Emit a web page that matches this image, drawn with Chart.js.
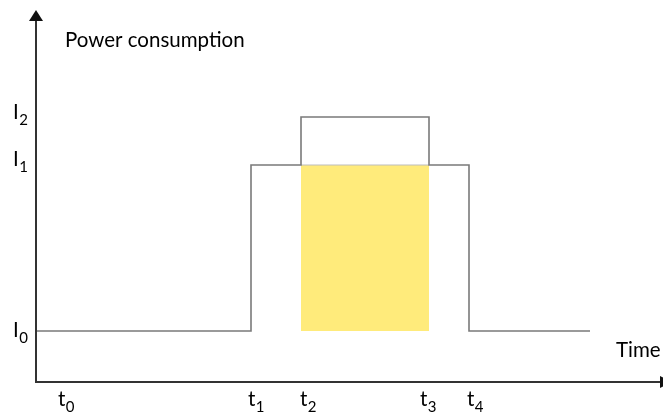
<!DOCTYPE html>
<html>
<head>
<meta charset="utf-8">
<script src="https://cdn.jsdelivr.net/npm/chart.js@4/dist/chart.umd.min.js"></script>
<style>
  html, body { margin: 0; padding: 0; background: #ffffff; }
  #c { display: block; }
</style>
</head>
<body>
<canvas id="c" width="663" height="412"></canvas>
<script>
// ---- data (arbitrary units) ----
const levelNames = ['I0', 'I1', 'I2'];
const levels = [5.1, 21.7, 26.5];                 // I0, I1, I2
const stepTimes = [0, 21.5, 26.5, 39.3, 43.3, 55.4];
const stepLevels = [5.1, 21.7, 26.5, 21.7, 5.1, 5.1];
const shadeTimes = [26.5, 39.3];                  // t2 .. t3
const shadeTop = [21.7, 21.7];                    // I1
const shadeBase = 5.1;                            // I0
const timeTickMain = ['t', 't', 't', 't', 't'];
const timeTickSub = ['0', '1', '2', '3', '4'];
const timeTickPos = [2.2, 21.2, 26.4, 38.4, 43.1];
const levelTickMain = ['I', 'I', 'I'];
const levelTickSub = ['0', '1', '2'];
const levelTickPos = [4.5, 21.6, 26.3];
const yTitle = 'Power consumption';
const xTitle = 'Time';
const xMax = 62.4, yMax = 37.2;

const FONT = 'Lato, "Open Sans", sans-serif';

const axesPlugin = {
  id: 'axesPlugin',
  afterDatasetsDraw(chart) {
    const ctx = chart.ctx;
    const xs = chart.scales.x, ys = chart.scales.y;
    const x0 = xs.getPixelForValue(0), y0 = ys.getPixelForValue(0);
    const xEnd = xs.getPixelForValue(xMax), yTop = ys.getPixelForValue(yMax);
    ctx.save();
    ctx.strokeStyle = '#333333';
    ctx.fillStyle = '#111111';
    ctx.lineWidth = 2;
    // y axis
    ctx.beginPath();
    ctx.moveTo(x0, y0 + 1);
    ctx.lineTo(x0, yTop + 10);
    ctx.stroke();
    ctx.beginPath();
    ctx.moveTo(x0, yTop);
    ctx.lineTo(x0 - 7, yTop + 11);
    ctx.lineTo(x0 + 7, yTop + 11);
    ctx.closePath();
    ctx.fill();
    // x axis
    ctx.beginPath();
    ctx.moveTo(x0 - 1, y0);
    ctx.lineTo(xEnd, y0);
    ctx.stroke();
    ctx.beginPath();
    ctx.moveTo(xEnd + 12, y0);
    ctx.lineTo(xEnd, y0 - 6);
    ctx.lineTo(xEnd, y0 + 6);
    ctx.closePath();
    ctx.fill();

    // titles
    ctx.fillStyle = '#000000';
    ctx.textAlign = 'left';
    ctx.textBaseline = 'alphabetic';
    ctx.font = '20.5px ' + FONT;
    ctx.fillText(yTitle, 65, 47);
    ctx.fillText(xTitle, 616, 357);

    // subscript labels
    function subLabel(main, sub, x, y) {
      ctx.font = '20.5px ' + FONT;
      ctx.fillText(main, x, y);
      const w = ctx.measureText(main).width;
      ctx.font = '15px ' + FONT;
      ctx.fillText(sub, x + w + 0.5, y + 6);
    }
    for (let i = 0; i < timeTickPos.length; i++) {
      subLabel(timeTickMain[i], timeTickSub[i], xs.getPixelForValue(timeTickPos[i]), 406);
    }
    for (let i = 0; i < levelTickPos.length; i++) {
      subLabel(levelTickMain[i], levelTickSub[i], 13, ys.getPixelForValue(levelTickPos[i]));
    }
    ctx.restore();
  }
};

new Chart(document.getElementById('c'), {
  type: 'line',
  data: {
    datasets: [
      {
        label: 'power',
        data: stepTimes.map((t, i) => ({ x: t, y: stepLevels[i] })),
        stepped: 'before',
        borderColor: '#7a7a7a',
        borderWidth: 1.6,
        pointRadius: 0,
        fill: false,
        order: 1
      },
      {
        label: 'shaded',
        data: shadeTimes.map((t, i) => ({ x: t, y: shadeTop[i] })),
        borderColor: '#bdbdbd',
        borderWidth: 1.2,
        backgroundColor: '#FFEB7B',
        pointRadius: 0,
        fill: { value: shadeBase },
        order: 2
      }
    ]
  },
  options: {
    responsive: false,
    animation: false,
    layout: { padding: { left: 36, right: 3, top: 10, bottom: 30 } },
    scales: {
      x: { type: 'linear', min: 0, max: xMax, display: false },
      y: { type: 'linear', min: 0, max: yMax, display: false }
    },
    plugins: {
      legend: { display: false },
      tooltip: { enabled: false },
      filler: { drawTime: 'beforeDatasetsDraw' }
    }
  },
  plugins: [axesPlugin]
});
</script>
</body>
</html>
